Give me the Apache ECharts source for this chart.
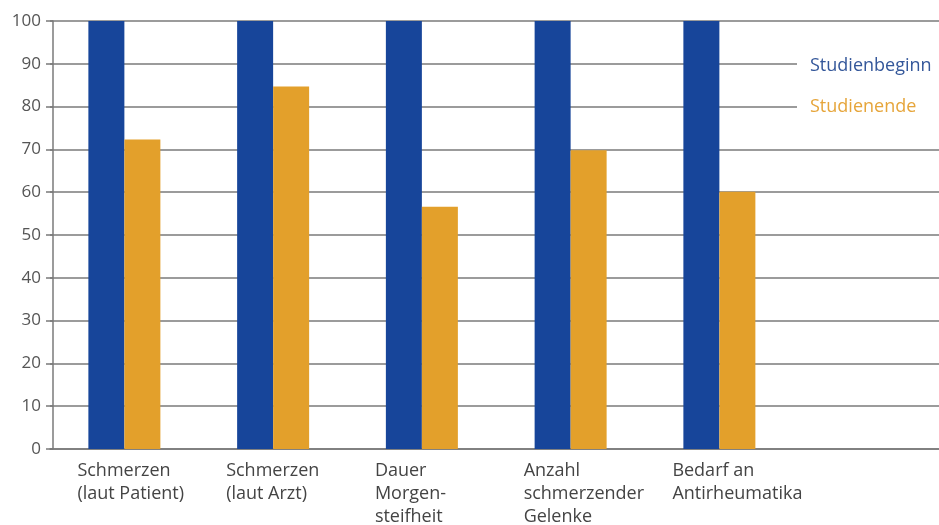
<!DOCTYPE html>
<html>
<head>
<meta charset="utf-8">
<script src="https://cdn.jsdelivr.net/npm/echarts@6/dist/echarts.min.js"></script>
<style>
html,body{margin:0;padding:0;background:#fff;}
#c{width:939px;height:525px;}
</style>
</head>
<body>
<div id="c"></div>
<script>
const categories = [
  "Schmerzen\n(laut Patient)",
  "Schmerzen\n(laut Arzt)",
  "Dauer\nMorgen-\nsteifheit",
  "Anzahl\nschmerzender\nGelenke",
  "Bedarf an\nAntirheumatika",
  ""
];
const studienbeginn = [100, 100, 100, 100, 100, null];
const studienende = [72.3, 84.7, 56.6, 69.8, 60.1, null];
const yTicks = { min: 0, max: 100, interval: 10 };

const blue = "#17459a";
const orange = "#e3a02b";
const gridGray = "#7a7a7a";

const chart = echarts.init(document.getElementById('c'), null, { renderer: 'canvas' });
chart.setOption({
  animation: false,
  backgroundColor: '#fff',
  grid: { left: 50, top: 21, width: 892.5, bottom: 76, containLabel: false, outerBoundsMode: 'none' },
  legend: {
    orient: 'vertical',
    left: 797,
    top: 50,
    padding: [5, 30, 5, 8],
    backgroundColor: '#fff',
    icon: 'none',
    itemWidth: 0,
    itemHeight: 22,
    itemGap: 20.8,
    selectedMode: false,
    z: 10,
    textStyle: { fontFamily: 'Open Sans', fontSize: 18 },
    data: [
      { name: 'Studienbeginn', textStyle: { color: '#34579a' } },
      { name: 'Studienende', textStyle: { color: '#e6a53a' } }
    ]
  },
  xAxis: {
    type: 'category',
    data: categories,
    axisLine: { show: true, lineStyle: { color: gridGray, width: 1.5 } },
    axisTick: { show: false },
    splitLine: { show: false },
    axisLabel: {
      interval: 0,
      align: 'right',
      margin: 10,
      color: '#444',
      fontFamily: 'Open Sans',
      fontSize: 18,
      lineHeight: 23,
      formatter: function (v) {
        if (!v) return '';
        return v.split('\n').map(l => '{a|' + l + '}').join('\n');
      },
      rich: {
        a: { width: 47, align: 'left', color: '#444', fontFamily: 'Open Sans', fontSize: 18, lineHeight: 23 }
      }
    }
  },
  yAxis: {
    type: 'value',
    min: yTicks.min,
    max: yTicks.max,
    interval: yTicks.interval,
    offset: -3,
    axisLine: { show: true, lineStyle: { color: gridGray, width: 1.5 } },
    axisTick: { show: true, length: 7, lineStyle: { color: gridGray, width: 1.5 } },
    splitLine: { show: true, lineStyle: { color: gridGray, width: 1.5 } },
    axisLabel: { color: '#555', fontFamily: 'Open Sans', fontSize: 17, margin: 12 }
  },
  series: [
    { name: 'Studienbeginn', type: 'bar', data: studienbeginn, barWidth: 36, barGap: '0%',
      itemStyle: { color: blue }, z: 2 },
    { name: 'Studienende', type: 'bar', data: studienende, barWidth: 36, barGap: '0%',
      itemStyle: { color: orange }, z: 2 }
  ]
});
</script>
</body>
</html>
